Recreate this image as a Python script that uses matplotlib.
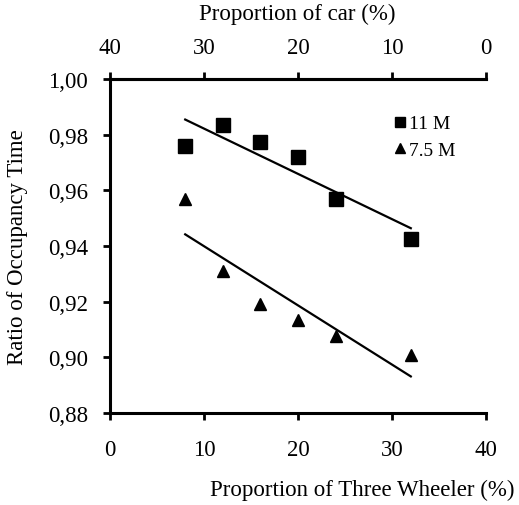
import matplotlib
matplotlib.use("Agg")
import matplotlib.pyplot as plt
import numpy as np

plt.rcParams['font.family'] = ['Liberation Serif', 'DejaVu Serif']

three_wheeler = [8, 12, 16, 20, 24, 32]
ratio_11m = [0.976, 0.9835, 0.9775, 0.972, 0.957, 0.9425]
ratio_75m = [0.957, 0.931, 0.919, 0.9135, 0.9075, 0.901]
x_ticks = [0, 10, 20, 30, 40]
y_ticks = [0.88, 0.90, 0.92, 0.94, 0.96, 0.98, 1.00]
y_labels = ['0,88', '0,90', '0,92', '0,94', '0,96', '0,98', '1,00']

FS = 16.5
fig = plt.figure(figsize=(5.19, 5.06), dpi=100)
ax = fig.add_axes([110/519, 1-414/506, 376/519, 334/506])

ax.plot(three_wheeler, ratio_11m, 's', color='black', markersize=9.5, linestyle='none', label='11 M')
ax.plot(three_wheeler, ratio_75m, '^', color='black', markersize=8.5, linestyle='none', label='7.5 M')

xs = np.array([three_wheeler[0], three_wheeler[-1]])
for ys in (ratio_11m, ratio_75m):
    m, b = np.polyfit(three_wheeler, ys, 1)
    ax.plot(xs, m*xs + b, color='black', lw=1.6)

ax.set_xlim(0, 40)
ax.set_ylim(0.88, 1.00)
ax.set_xticks(x_ticks)
ax.set_yticks(y_ticks)
ax.set_yticklabels(y_labels)
ax.tick_params(axis='y', labelsize=FS, width=2, length=5, direction='out', pad=11)
ax.tick_params(axis='x', labelsize=FS, width=2, length=5, direction='out', pad=14)
for s in ['left', 'bottom', 'top']:
    ax.spines[s].set_linewidth(2.2)
ax.spines['right'].set_visible(False)

ax.set_ylabel('Ratio of Occupancy Time', fontsize=FS)
ax.yaxis.set_label_coords(-(110-18)/376, 0.5)
ax.yaxis.label.set_va('center')
ax.set_xlabel('Proportion of Three Wheeler (%)', fontsize=FS)
ax.xaxis.set_label_coords((362-110)/376, -(490-414)/334)
ax.xaxis.label.set_va('center')

sec = ax.secondary_xaxis('top', functions=(lambda x: 40 - x, lambda x: 40 - x))
sec.set_xticks(x_ticks)
sec.tick_params(labelsize=FS, width=2, length=5, direction='out', pad=10)
sec.spines['top'].set_linewidth(2.2)
fig.text(297/519, 1 - 14/506, 'Proportion of car (%)', fontsize=FS, ha='center', va='center')

leg = ax.legend(loc='upper right', bbox_to_anchor=(0.965, 0.945), frameon=False,
                fontsize=14, handletextpad=0.0, handlelength=0.9, labelspacing=0.45,
                markerscale=0.8)

fig.savefig('out.png', dpi=100)
